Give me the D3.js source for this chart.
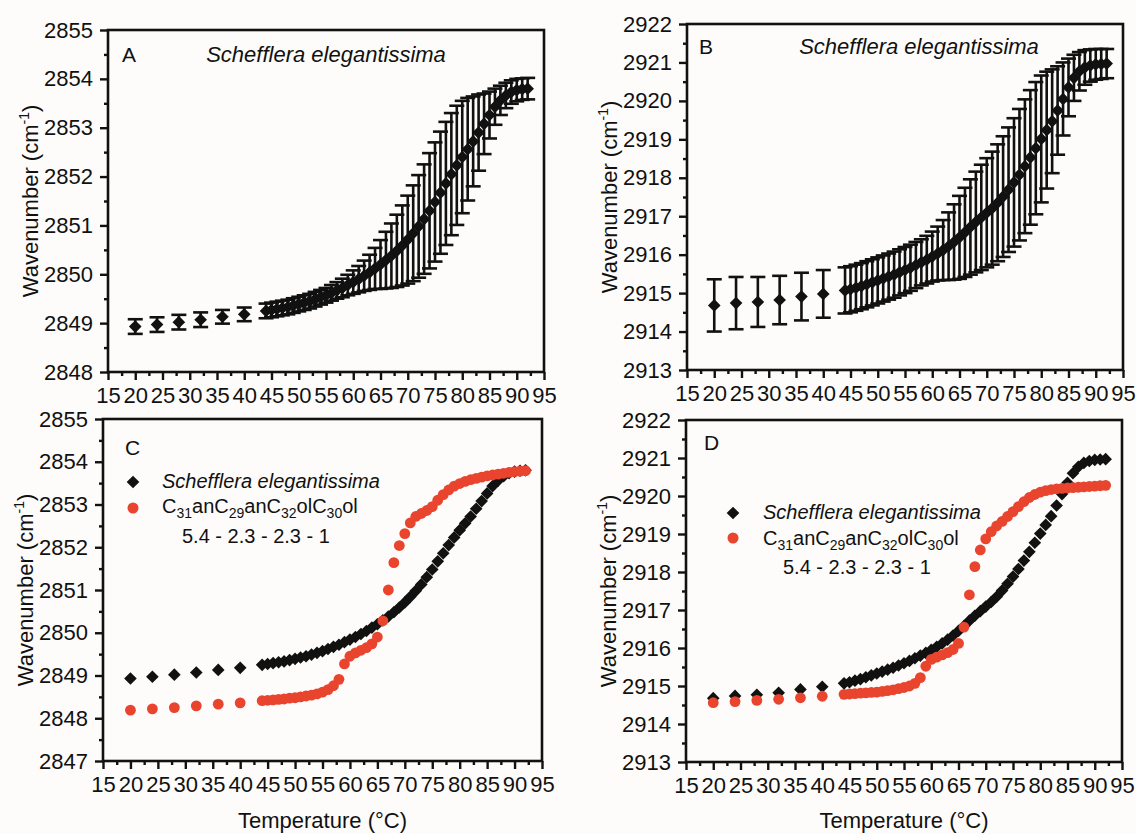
<!DOCTYPE html>
<html>
<head>
<meta charset="utf-8">
<script src="https://cdn.jsdelivr.net/npm/d3@7"></script>
<style>
  body { margin: 0; background: #fdfcfa; }
  svg { display: block; }
  text { font-family: "Liberation Sans", Arial, sans-serif; fill: #111; }
</style>
</head>
<body>
<div id="chart"></div>
<script>
// temperatures (°C)
const temps = [20, 24, 28, 32, 36, 40,
  44, 45, 46, 47, 48, 49, 50, 51, 52, 53, 54, 55, 56, 57, 58, 59, 60, 61, 62, 63, 64, 65, 66, 67, 68,
  69, 70, 71, 72, 73, 74, 75, 76, 77, 78, 79, 80, 81, 82, 83, 84, 85, 86, 87, 88, 89, 90, 91, 92];

// CH2 symmetric stretch, Schefflera elegantissima (mean, SD)
const symMean = [2848.93, 2848.97, 2849.02, 2849.07, 2849.13, 2849.18,
  2849.25, 2849.27, 2849.29, 2849.31, 2849.33, 2849.36, 2849.39, 2849.42, 2849.45, 2849.49, 2849.53,
  2849.57, 2849.62, 2849.67, 2849.72, 2849.78, 2849.84, 2849.90, 2849.97, 2850.04, 2850.12, 2850.20,
  2850.29, 2850.38, 2850.48, 2850.59, 2850.71, 2850.84, 2850.98, 2851.13, 2851.30, 2851.48, 2851.67,
  2851.86, 2852.05, 2852.23, 2852.40, 2852.56, 2852.72, 2852.90, 2853.08, 2853.26, 2853.43, 2853.56,
  2853.66, 2853.73, 2853.77, 2853.79, 2853.80];
const symSD = [0.15, 0.15, 0.15, 0.15, 0.14, 0.14,
  0.15, 0.15, 0.15, 0.15, 0.15, 0.15, 0.15, 0.15, 0.15, 0.15, 0.15, 0.15, 0.16, 0.17, 0.19, 0.21,
  0.24, 0.27, 0.31, 0.36, 0.42, 0.50, 0.58, 0.66, 0.74, 0.82, 0.90, 0.98, 1.05, 1.12, 1.18, 1.22,
  1.25, 1.26, 1.25, 1.22, 1.15, 1.05, 0.92, 0.78, 0.62, 0.48, 0.37, 0.30, 0.26, 0.24, 0.23, 0.22, 0.22];

// CH2 asymmetric stretch, Schefflera elegantissima (mean, SD)
const asymMean = [2914.68, 2914.74, 2914.77, 2914.82, 2914.91, 2914.98,
  2915.07, 2915.10, 2915.14, 2915.18, 2915.23, 2915.28, 2915.33, 2915.38, 2915.43, 2915.48, 2915.54,
  2915.60, 2915.66, 2915.73, 2915.80, 2915.87, 2915.95, 2916.03, 2916.12, 2916.22, 2916.33, 2916.45,
  2916.58, 2916.72, 2916.85, 2916.97, 2917.09, 2917.21, 2917.35, 2917.51, 2917.69, 2917.88, 2918.08,
  2918.30, 2918.53, 2918.77, 2919.01, 2919.24, 2919.47, 2919.75, 2920.05, 2920.35, 2920.60, 2920.77,
  2920.87, 2920.92, 2920.95, 2920.96, 2920.97];
const asymSD = [0.68, 0.68, 0.65, 0.63, 0.62, 0.62,
  0.60, 0.60, 0.60, 0.60, 0.60, 0.60, 0.60, 0.60, 0.60, 0.60, 0.60, 0.60, 0.60, 0.60, 0.60, 0.62,
  0.65, 0.70, 0.78, 0.88, 0.98, 1.08, 1.16, 1.24, 1.31, 1.37, 1.42, 1.47, 1.52, 1.57, 1.62, 1.67,
  1.71, 1.74, 1.75, 1.72, 1.65, 1.52, 1.35, 1.15, 0.95, 0.75, 0.60, 0.50, 0.45, 0.42, 0.40, 0.39, 0.38];

// C31anC29anC32olC30ol 5.4-2.3-2.3-1 mixture
const symMix = [2848.19, 2848.22, 2848.25, 2848.29, 2848.33, 2848.36,
  2848.41, 2848.42, 2848.43, 2848.44, 2848.45, 2848.47, 2848.48, 2848.50, 2848.52, 2848.54, 2848.57,
  2848.61, 2848.67, 2848.76, 2848.91, 2849.27, 2849.45, 2849.53, 2849.59, 2849.65, 2849.74, 2849.90,
  2850.28, 2851.00, 2851.64, 2852.04, 2852.32, 2852.57, 2852.72, 2852.79, 2852.86, 2852.95, 2853.10,
  2853.23, 2853.34, 2853.43, 2853.49, 2853.54, 2853.58, 2853.61, 2853.64, 2853.67, 2853.69, 2853.71,
  2853.73, 2853.75, 2853.77, 2853.78, 2853.79];
const asymMix = [2914.56, 2914.59, 2914.62, 2914.65, 2914.69, 2914.73,
  2914.78, 2914.79, 2914.80, 2914.81, 2914.82, 2914.83, 2914.84, 2914.86, 2914.88, 2914.90, 2914.93,
  2914.96, 2915.00, 2915.07, 2915.22, 2915.52, 2915.70, 2915.76, 2915.82, 2915.88, 2915.96, 2916.12,
  2916.55, 2917.40, 2918.14, 2918.58, 2918.87, 2919.06, 2919.21, 2919.33, 2919.46, 2919.59, 2919.72,
  2919.85, 2919.96, 2920.04, 2920.10, 2920.14, 2920.17, 2920.19, 2920.20, 2920.21, 2920.22, 2920.23,
  2920.24, 2920.25, 2920.26, 2920.27, 2920.28];

const xTicks = [15, 20, 25, 30, 35, 40, 45, 50, 55, 60, 65, 70, 75, 80, 85, 90, 95];
const yTicksSym = [2848, 2849, 2850, 2851, 2852, 2853, 2854, 2855];
const yTicksSymC = [2847, 2848, 2849, 2850, 2851, 2852, 2853, 2854, 2855];
const yTicksAsym = [2913, 2914, 2915, 2916, 2917, 2918, 2919, 2920, 2921, 2922];
const speciesName = "Schefflera elegantissima";

const width = 1136, height = 834;
const black = "#111", red = "#e8442e";
const fontFam = '"Liberation Sans", Arial, sans-serif';

const svg = d3.select("#chart").append("svg")
  .attr("width", width).attr("height", height)
  .style("background", "#fdfcfa");

const diamond = d3.symbol().type(d3.symbolSquare).size(80);

const panels = [
  { id: "A", box: [108, 544, 30, 372], yDomain: [2848, 2855], yTicks: yTicksSym,
    mean: symMean, sd: symSD, letter: [122, 62], title: [326, 62] },
  { id: "B", box: [687, 1123, 24, 370], yDomain: [2913, 2922], yTicks: yTicksAsym,
    mean: asymMean, sd: asymSD, letter: [699, 54], title: [919, 54] },
  { id: "C", box: [103, 542, 419, 761], yDomain: [2847, 2855], yTicks: yTicksSymC,
    mean: symMean, mix: symMix, letter: [125, 455], xTitle: true,
    legend: { mx: 133, my: [482, 508], tx: 162, ty: [488, 513], l3: [182, 543] } },
  { id: "D", box: [686, 1122, 420, 762], yDomain: [2913, 2922], yTicks: yTicksAsym,
    mean: asymMean, mix: asymMix, letter: [704, 450], xTitle: true,
    legend: { mx: 733, my: [513, 538], tx: 763, ty: [519, 545], l3: [783, 574] } },
];

const drawPanel = (p) => {
  const [x0, x1, y0, y1] = p.box;
  const g = svg.append("g").attr("id", `panel-${p.id}`);
  const x = d3.scaleLinear().domain([15, 95]).range([x0, x1]);
  const y = d3.scaleLinear().domain(p.yDomain).range([y1, y0]);

  const xMinor = d3.range(17.5, 95, 5);
  const yMinor = d3.range(p.yDomain[0] + 0.5, p.yDomain[1], 1);

  // minor ticks
  g.append("g").attr("transform", `translate(0,${y1})`)
    .call(d3.axisBottom(x).tickValues(xMinor).tickSize(4).tickFormat(""))
    .call((s) => s.select(".domain").remove());
  g.append("g").attr("transform", `translate(${x0},0)`)
    .call(d3.axisLeft(y).tickValues(yMinor).tickSize(4).tickFormat(""))
    .call((s) => s.select(".domain").remove());

  // major ticks + labels
  const xAx = g.append("g").attr("transform", `translate(0,${y1})`)
    .call(d3.axisBottom(x).tickValues(xTicks).tickSize(8).tickPadding(7).tickFormat(d3.format("d")));
  const yAx = g.append("g").attr("transform", `translate(${x0},0)`)
    .call(d3.axisLeft(y).tickValues(p.yTicks).tickSize(8).tickPadding(7).tickFormat(d3.format("d")));
  [xAx, yAx].forEach((a) => {
    a.select(".domain").remove();
    a.selectAll("text").attr("font-size", 22).attr("font-family", fontFam).attr("fill", black);
  });
  g.selectAll(".tick line").attr("stroke", black).attr("stroke-width", 2.4);

  // frame
  g.append("rect")
    .attr("x", x0).attr("y", y0).attr("width", x1 - x0).attr("height", y1 - y0)
    .attr("fill", "none").attr("stroke", black).attr("stroke-width", 2.6);

  // y title
  const yt = g.append("text")
    .attr("transform", `translate(${x0 - 70},${(y0 + y1) / 2}) rotate(-90)`)
    .attr("text-anchor", "middle").attr("font-size", 22);
  yt.append("tspan").text("Wavenumber (cm");
  yt.append("tspan").text("-1").attr("font-size", 14).attr("dy", -9);
  yt.append("tspan").text(")").attr("dy", 9);

  if (p.xTitle) {
    g.append("text").attr("x", (x0 + x1) / 2).attr("y", 828)
      .attr("text-anchor", "middle").attr("font-size", 22)
      .text("Temperature (°C)");
  }

  g.append("text").attr("x", p.letter[0]).attr("y", p.letter[1])
    .attr("font-size", 21).text(p.id);

  if (p.title) {
    g.append("text").attr("x", p.title[0]).attr("y", p.title[1])
      .attr("text-anchor", "middle").attr("font-size", 22).attr("font-style", "italic")
      .text(speciesName);
  }

  const data = temps.map((t, i) => ({ t, m: p.mean[i], sd: p.sd ? p.sd[i] : 0, mix: p.mix ? p.mix[i] : null }));

  if (p.sd) {
    const eb = g.append("g").attr("stroke", black).attr("stroke-width", 2.6);
    const bar = eb.selectAll("g").data(data).join("g");
    bar.append("line")
      .attr("x1", (d) => x(d.t)).attr("x2", (d) => x(d.t))
      .attr("y1", (d) => y(d.m - d.sd)).attr("y2", (d) => y(d.m + d.sd));
    bar.append("line")
      .attr("x1", (d) => x(d.t) - 7.5).attr("x2", (d) => x(d.t) + 7.5)
      .attr("y1", (d) => y(d.m + d.sd)).attr("y2", (d) => y(d.m + d.sd));
    bar.append("line")
      .attr("x1", (d) => x(d.t) - 7.5).attr("x2", (d) => x(d.t) + 7.5)
      .attr("y1", (d) => y(d.m - d.sd)).attr("y2", (d) => y(d.m - d.sd));
  }

  g.append("g").selectAll("path").data(data).join("path")
    .attr("d", diamond)
    .attr("transform", (d) => `translate(${x(d.t)},${y(d.m)}) rotate(45)`)
    .attr("fill", black);

  if (p.mix) {
    g.append("g").selectAll("circle").data(data).join("circle")
      .attr("cx", (d) => x(d.t)).attr("cy", (d) => y(d.mix))
      .attr("r", 5.4).attr("fill", red);
  }

  if (p.legend) {
    const L = p.legend;
    g.append("path").attr("d", diamond)
      .attr("transform", `translate(${L.mx},${L.my[0]}) rotate(45)`).attr("fill", black);
    g.append("circle").attr("cx", L.mx).attr("cy", L.my[1]).attr("r", 5.5).attr("fill", red);
    g.append("text").attr("x", L.tx).attr("y", L.ty[0]).attr("font-size", 20)
      .attr("font-style", "italic").text(speciesName);
    const t2 = g.append("text").attr("x", L.tx).attr("y", L.ty[1]).attr("font-size", 20);
    [["C", ""], ["31", "sub"], ["anC", ""], ["29", "sub"], ["anC", ""], ["32", "sub"],
     ["olC", ""], ["30", "sub"], ["ol", ""]].forEach(([s, k], i, arr) => {
      const prevSub = i > 0 && arr[i - 1][1] === "sub";
      const ts = t2.append("tspan").text(s);
      if (k === "sub") ts.attr("font-size", 14).attr("dy", 5);
      else if (prevSub) ts.attr("dy", -5);
    });
    g.append("text").attr("x", L.l3[0]).attr("y", L.l3[1]).attr("font-size", 20)
      .text("5.4 - 2.3 - 2.3 - 1");
  }
};

panels.forEach(drawPanel);
</script>
</body>
</html>
